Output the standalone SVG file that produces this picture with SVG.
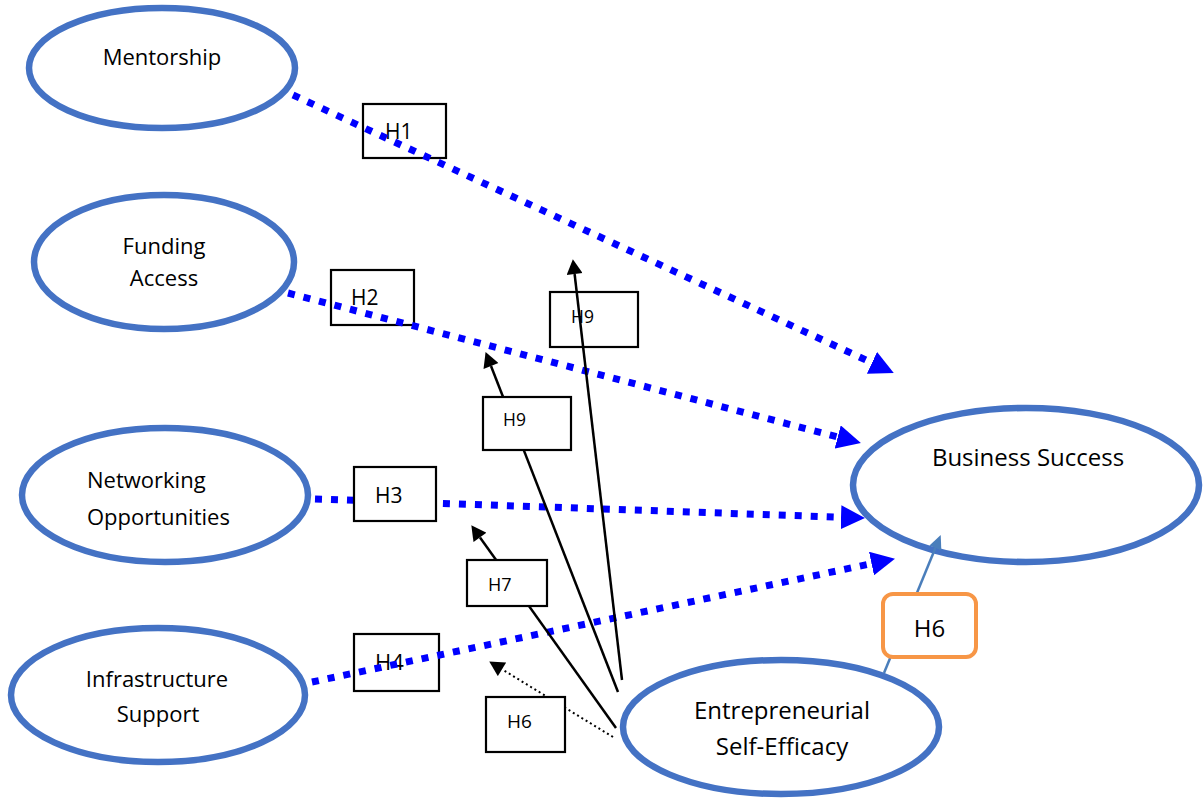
<svg xmlns="http://www.w3.org/2000/svg" width="1203" height="800" viewBox="0 0 1203 800">
<style>
.node{fill:#fff;stroke:#4472C4;stroke-width:6.5}
.nt{font-family:"Open Sans","Liberation Sans",sans-serif;font-size:22px;fill:#000}
.big{font-size:24px}
.blue{stroke:#0000FF;stroke-width:7;stroke-dasharray:7 9;fill:none}
.blk{stroke:#000;stroke-width:2.5;fill:none}
.dot{stroke:#000;stroke-width:2;stroke-dasharray:2 3;fill:none}
.box{fill:none;stroke:#000;stroke-width:2.2}
.boxw{fill:#fff;stroke:#000;stroke-width:2.2}
.lt{font-family:"Open Sans","Liberation Sans",sans-serif;fill:#000}
</style>
<defs>
<marker id="ab" markerUnits="userSpaceOnUse" markerWidth="24" markerHeight="24" refX="0" refY="11" orient="auto" viewBox="0 0 22 22"><path d="M0,0 L22,11 L0,22 z" fill="#0000FF"/></marker>
<marker id="ak" markerUnits="userSpaceOnUse" markerWidth="16" markerHeight="16" refX="0" refY="7.5" orient="auto" viewBox="0 0 14 15"><path d="M0,0 L14,7.5 L0,15 z" fill="#000"/></marker>
<marker id="as" markerUnits="userSpaceOnUse" markerWidth="14" markerHeight="14" refX="0" refY="5.5" orient="auto" viewBox="0 0 12 11"><path d="M0,0 L12,5.5 L0,11 z" fill="#4A7EBB"/></marker>
</defs>
<rect width="1203" height="800" fill="#fff"/>
<g id="mentorship"><ellipse class="node" cx="162" cy="68" rx="133" ry="60"/><text class="nt" x="162" y="65" text-anchor="middle">Mentorship</text></g>
<g id="funding-access"><ellipse class="node" cx="164" cy="262" rx="130" ry="67"/><text class="nt" x="164" y="254" text-anchor="middle">Funding</text><text class="nt" x="164" y="286" text-anchor="middle">Access</text></g>
<g id="networking-opportunities"><ellipse class="node" cx="165" cy="495" rx="143" ry="67"/><text class="nt" x="87" y="488">Networking</text><text class="nt" x="87" y="525">Opportunities</text></g>
<g id="infrastructure-support"><ellipse class="node" cx="158" cy="695" rx="147" ry="67"/><text class="nt" x="157" y="687" text-anchor="middle">Infrastructure</text><text class="nt" x="158" y="722" text-anchor="middle">Support</text></g>
<g id="business-success"><ellipse class="node" cx="1026" cy="485" rx="173" ry="77"/><text class="nt big" x="1028" y="466" text-anchor="middle">Business Success</text></g>
<g id="entrepreneurial-self-efficacy"><ellipse class="node" cx="781" cy="727" rx="158" ry="67"/><text class="nt big" x="782" y="719" text-anchor="middle">Entrepreneurial</text><text class="nt big" x="782" y="755" text-anchor="middle">Self-Efficacy</text></g>
<g id="labels-back">
<g id="lbl-h1"><rect class="box" x="363" y="104" width="83" height="54"/><text class="lt" x="385" y="139" font-size="21">H1</text></g>
<g id="lbl-h2"><rect class="box" x="331" y="270" width="83" height="55"/><text class="lt" x="351" y="305" font-size="21">H2</text></g>
<g id="lbl-h4"><rect class="box" x="354" y="634" width="85" height="57"/><text class="lt" x="375" y="670" font-size="22">H4</text></g>
<g id="lbl-h9a"><rect class="box" x="550" y="292" width="88" height="55"/><text class="lt" x="571" y="323" font-size="17.5">H9</text></g>
</g>
<g id="connectors">
<line class="blue" x1="293" y1="95" x2="872" y2="362.8" marker-end="url(#ab)"/>
<line class="blue" x1="288" y1="293" x2="837.7" y2="437" marker-end="url(#ab)"/>
<line class="blue" x1="315" y1="499" x2="841" y2="517.2" marker-end="url(#ab)"/>
<line class="blue" x1="312" y1="682" x2="871.5" y2="563.6" marker-end="url(#ab)"/>
<line class="blk" x1="622" y1="680" x2="574.6" y2="274" marker-end="url(#ak)"/>
<line class="blk" x1="618" y1="692" x2="491" y2="366" marker-end="url(#ak)"/>
<line class="blk" x1="616" y1="728" x2="480" y2="537.4" marker-end="url(#ak)"/>
<line class="dot" x1="613" y1="737" x2="502" y2="669.3" marker-end="url(#ak)"/>
<line stroke="#4A7EBB" stroke-width="2.5" x1="884" y1="673" x2="935.4" y2="548" marker-end="url(#as)"/>
</g>
<g id="labels-front">
<g id="lbl-h3"><rect class="boxw" x="354" y="467" width="82" height="54"/><text class="lt" x="375" y="503" font-size="21">H3</text></g>
<g id="lbl-h9b"><rect class="boxw" x="483" y="397" width="88" height="53"/><text class="lt" x="503" y="426" font-size="17.5">H9</text></g>
<g id="lbl-h7"><rect class="boxw" x="467" y="560" width="80" height="46"/><text class="lt" x="488" y="591" font-size="18">H7</text></g>
<g id="lbl-h6a"><rect class="boxw" x="486" y="697" width="79" height="55"/><text class="lt" x="507" y="728" font-size="19">H6</text></g>
<g id="lbl-h6b"><rect x="883" y="594" width="93" height="63" rx="10" fill="#fff" stroke="#F79646" stroke-width="4"/><text class="lt" x="929.5" y="637" font-size="24" text-anchor="middle">H6</text></g>
</g>
</svg>
